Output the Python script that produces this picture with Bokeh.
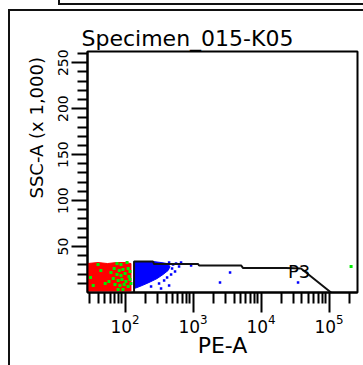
from bokeh.plotting import figure
from bokeh.models import Range1d, FixedTicker, Label, Title
from bokeh.embed import file_html
from bokeh.resources import INLINE

# ---------------- data ----------------
title_text = "Specimen_015-K05"
x_label = "PE-A"
y_label = "SSC-A (x 1,000)"
gate_name = "P3"

x_min, x_max = 28, 262144          # PE-A (log)
y_min, y_max = 0, 262.144          # SSC-A in thousands
x_major = [100, 1000, 10000, 100000]
y_major = [50, 100, 150, 200, 250]
y_minor = [10, 20, 30, 40, 60, 70, 80, 90, 110, 120, 130, 140, 160, 170, 180, 190,
           210, 220, 230, 240, 260]

# red population (dense region outline)
red_x = [28, 40, 55, 75, 100, 122, 122, 28]
red_y = [31.5, 32.6, 31.5, 32.6, 32.6, 31.5, 1.6, 1.6]

# green events
green_x = [76, 87, 107, 69, 82, 93, 111, 118, 76, 87, 100, 114, 67, 79, 90, 103, 118,
           71, 84, 97, 111, 122, 62, 58, 31, 34, 44, 51, 40, 93, 79, 211000]
green_y = [31.5, 30.5, 32.6, 26.1, 23.9, 25.0, 26.1, 22.8, 19.6, 18.5, 20.7, 17.4, 15.2,
           13.1, 14.1, 12.0, 14.1, 8.7, 7.6, 8.7, 6.5, 9.8, 21.8, 12.0, 16.3, 7.6, 23.9,
           9.8, 30.5, 3.3, 3.3, 28.3]

# blue population (dense core outline) + scattered blue events
blue_core_x = [135.5, 258, 338, 415, 459, 429, 362, 296, 225, 178, 150, 135.5]
blue_core_y = [33.7, 33.7, 32.6, 31.5, 28.3, 23.9, 19.6, 15.2, 10.9, 7.6, 5.4, 4.4]
blue_x = [444, 508, 562, 491, 543, 475, 415, 375, 316, 241, 622, 666, 444, 935, 2490,
          3500, 35000, 338]
blue_y = [32.6, 30.5, 31.5, 26.1, 22.8, 19.6, 16.3, 13.1, 9.8, 6.5, 28.3, 32.6, 7.6,
          29.4, 10.9, 21.8, 10.9, 4.4]

# gate P3 outline
gate_x = [135.5, 135.5, 258, 267, 1185, 1225, 5080, 5440, 23300, 38700, 107000]
gate_y = [0, 33.7, 33.7, 31.0, 31.0, 29.4, 29.4, 26.6, 26.6, 26.1, 0]

# ---------------- figure ----------------
FONT = "DejaVu Sans"
# thin panel frame lines around the plot (drawn as CSS background stripes of the host)
frame_css = {
    "background-color": "white",
    "background-image": ", ".join(["linear-gradient(#111,#111)"] * 4),
    "background-size": "305px 2px, 2px 5px, 355px 2px, 2px 356px",
    "background-position": "58px 3px, 58px 0px, 8px 9px, 8px 9px",
    "background-repeat": "no-repeat",
}
p = figure(width=363, height=365, output_backend="svg", toolbar_location=None,
           x_axis_type="log",
           x_range=Range1d(x_min, x_max), y_range=Range1d(y_min, y_max),
           min_border_left=87, min_border_right=6, min_border_top=51, min_border_bottom=73,
           styles=frame_css)
p.background_fill_color = "white"
p.border_fill_alpha = 0
p.grid.visible = False
p.outline_line_color = "black"
p.outline_line_width = 2
p.outline_line_alpha = 1

x_minor = [m * 10 ** k for k in range(1, 6) for m in range(2, 10) if x_min <= m * 10 ** k <= x_max]

xa = p.xaxis[0]
xa.ticker = FixedTicker(ticks=x_major, minor_ticks=x_minor)
xa.axis_line_width = 2
xa.major_tick_line_width = 2
xa.minor_tick_line_width = 2
xa.major_tick_out = 20
xa.major_tick_in = 0
xa.minor_tick_out = 11
xa.minor_tick_in = 0
xa.major_label_standoff = 1
xa.major_label_text_font = FONT
xa.major_label_text_font_size = "17px"
xa.major_label_text_color = "black"

ya = p.yaxis[0]
ya.ticker = FixedTicker(ticks=y_major, minor_ticks=y_minor)
ya.axis_line_width = 2
ya.major_tick_line_width = 2
ya.minor_tick_line_width = 2
ya.major_tick_out = 16
ya.major_tick_in = 0
ya.minor_tick_out = 10
ya.minor_tick_in = 0
ya.major_label_standoff = 3
ya.major_label_orientation = "vertical"
ya.major_label_text_font = FONT
ya.major_label_text_font_size = "14px"
ya.major_label_text_color = "black"

# populations
p.patch(red_x, red_y, fill_color="#ff0000", line_color="#ff0000", line_width=1)
p.scatter(green_x, green_y, marker="square", size=3, fill_color="#00ee00", line_color=None)
p.patch(blue_core_x, blue_core_y, fill_color="#0000ff", line_color="#0000ff", line_width=1)
p.scatter(blue_x, blue_y, marker="square", size=2.5, fill_color="#0000ff", line_color=None)

# gate
p.line(gate_x, gate_y, line_color="#111111", line_width=2)
p.add_layout(Label(x=24900, y=22.8, text=gate_name, text_font=FONT,
                   text_font_size="18px", text_baseline="alphabetic", text_align="left",
                   text_color="black"))

# titles in the side panels
p.add_layout(Title(text=title_text, align="left", offset=-6, standoff=2,
                   text_font=FONT, text_font_size="22px", text_font_style="normal",
                   text_color="black"), "above")
p.add_layout(Title(text=y_label, align="left", offset=94, standoff=18,
                   text_font=FONT, text_font_size="18px", text_font_style="normal",
                   text_color="black"), "left")
p.add_layout(Title(text=x_label, align="center", offset=0, standoff=-10,
                   text_font=FONT, text_font_size="22px", text_font_style="normal",
                   text_color="black"), "below")

open("out.html", "w").write(file_html(p, INLINE))
